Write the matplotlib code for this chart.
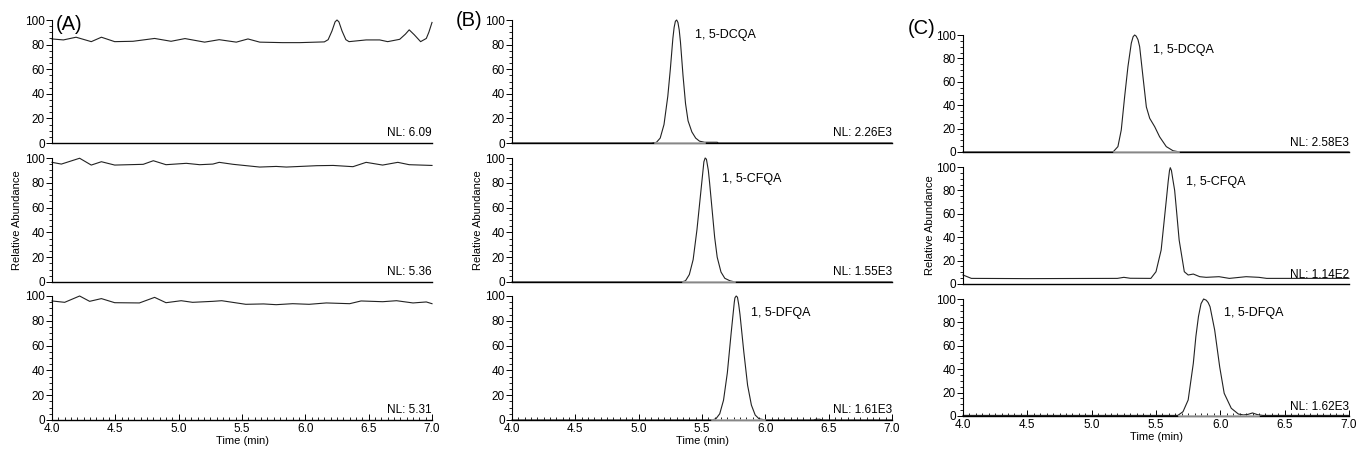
import numpy as np
import matplotlib
matplotlib.use("Agg")
import matplotlib.pyplot as plt
from matplotlib.ticker import MultipleLocator

plt.rcParams['font.family'] = ['Liberation Sans', 'DejaVu Sans']

## DATA (time in min, relative abundance in %)

# panel A: blank, three channels
a1_t = [4.0, 4.09, 4.19, 4.31, 4.39, 4.495, 4.64, 4.81, 4.94, 5.05, 5.205, 5.32, 5.455, 5.547,
        5.64, 5.82, 5.955, 6.15, 6.18, 6.21, 6.235, 6.25, 6.265, 6.29, 6.32, 6.345, 6.48,
        6.587, 6.65, 6.745, 6.79, 6.82, 6.86, 6.91, 6.955, 6.975, 7.0]
a1_y = [84.6, 83.8, 86.0, 82.4, 86.0, 82.4, 82.7, 85.0, 82.7, 84.9, 82.0, 84.0, 82.0, 84.6,
        82.0, 81.6, 81.6, 82.2, 84.0, 91.0, 98.5, 100.0, 98.5, 91.0, 84.0, 82.4, 83.8,
        83.8, 82.4, 84.3, 88.5, 92.0, 88.0, 82.4, 85.0, 90.0, 98.0]

a2_t = [4.0, 4.074, 4.218, 4.31, 4.39, 4.495, 4.72, 4.80, 4.90, 5.06, 5.166, 5.27, 5.32, 5.43,
        5.64, 5.77, 5.85, 6.09, 6.22, 6.376, 6.48, 6.61, 6.73, 6.82, 7.0]
a2_y = [96.5, 95.1, 99.8, 94.3, 97.0, 94.3, 94.9, 97.8, 94.6, 95.7, 94.6, 95.1, 96.5, 94.9,
        92.7, 93.2, 92.7, 93.8, 94.0, 93.0, 96.5, 94.3, 96.5, 94.6, 94.0]

a3_t = [4.0, 4.10, 4.218, 4.297, 4.39, 4.495, 4.69, 4.81, 4.90, 5.02, 5.11, 5.27, 5.34, 5.53,
        5.67, 5.77, 5.90, 6.03, 6.166, 6.35, 6.44, 6.61, 6.72, 6.85, 6.955, 7.0]
a3_y = [96.0, 94.9, 100.0, 95.7, 97.9, 94.6, 94.4, 98.9, 94.6, 96.2, 94.9, 95.7, 96.2, 93.3,
        93.6, 93.0, 93.8, 93.3, 94.4, 93.8, 96.0, 95.4, 96.2, 94.4, 95.2, 93.8]

# panel B: standards
b1_t = [4.0, 5.10, 5.14, 5.17, 5.20, 5.23, 5.25, 5.27, 5.28, 5.29, 5.30, 5.31, 5.32, 5.33,
        5.35, 5.37, 5.39, 5.42, 5.45, 5.48, 5.52, 5.62, 5.63, 7.0]
b1_y = [0, 0, 0.5, 4, 15, 38, 60, 85, 94, 99, 100, 98, 92, 82, 55, 32, 18, 9, 4, 1.5, 0.6,
        0.6, 0, 0]

b2_t = [4.0, 5.34, 5.37, 5.40, 5.43, 5.46, 5.49, 5.51, 5.515, 5.525, 5.535, 5.54, 5.55, 5.56,
        5.58, 5.60, 5.62, 5.65, 5.68, 5.72, 5.76, 7.0]
b2_y = [0, 0, 1, 6, 18, 42, 72, 92, 97, 100, 99, 96, 90, 80, 58, 36, 20, 8, 3, 1, 0, 0]

b3_t = [4.0, 5.58, 5.61, 5.64, 5.67, 5.70, 5.73, 5.755, 5.76, 5.77, 5.78, 5.785, 5.79, 5.80,
        5.83, 5.86, 5.89, 5.92, 5.95, 6.0, 6.38, 6.40, 6.43, 6.45, 7.0]
b3_y = [0, 0, 1, 5, 16, 38, 70, 95, 98.5, 100, 99, 96, 93, 85, 55, 28, 12, 4, 1, 0, 0, 0.6,
        0.6, 0, 0]

# panel C: sample
c1_t = [4.0, 5.166, 5.204, 5.23, 5.256, 5.282, 5.308, 5.322, 5.334, 5.346, 5.36, 5.373,
        5.399, 5.425, 5.451, 5.49, 5.528, 5.58, 5.632, 5.684, 7.0]
c1_y = [0, 0, 4.6, 18.8, 47, 73, 93, 98.5, 100, 99, 96, 90, 64, 38.5, 28.8, 21.6, 13, 4.6,
        1.1, 0, 0]

c2_t = [4.0, 4.065, 4.5, 5.20, 5.25, 5.30, 5.46, 5.50, 5.54, 5.58, 5.595, 5.605, 5.611,
        5.62, 5.63, 5.645, 5.66, 5.68, 5.72, 5.75, 5.79, 5.84, 5.89, 5.99, 6.07, 6.20, 6.30,
        6.36, 7.0]
c2_y = [7.7, 4.8, 4.6, 4.8, 5.7, 4.9, 4.8, 10.5, 29, 71.6, 88, 97, 99.4, 97, 90, 80, 62,
        37.5, 10.5, 7.7, 8.5, 6.25, 5.7, 6.25, 4.8, 6.25, 5.7, 4.8, 4.8]

c3_t = [4.0, 5.67, 5.71, 5.75, 5.79, 5.81, 5.83, 5.85, 5.87, 5.89, 5.905, 5.92, 5.956, 5.995,
        6.03, 6.085, 6.14, 6.18, 6.215, 6.25, 6.29, 6.33, 7.0]
c3_y = [0.5, 0.5, 3.7, 13.7, 45, 68, 85, 96, 100, 99, 97, 93.4, 73.5, 42, 19.4, 6.6, 1.7,
        0.9, 1.4, 2.6, 1.1, 0.5, 0.5]

nl_labels = [["NL: 6.09", "NL: 5.36", "NL: 5.31"],
             ["NL: 2.26E3", "NL: 1.55E3", "NL: 1.61E3"],
             ["NL: 2.58E3", "NL: 1.14E2", "NL: 1.62E3"]]
peak_names = ["1, 5-DCQA", "1, 5-CFQA", "1, 5-DFQA"]
peak_label_t = [[5.445, 5.66, 5.89], [5.48, 5.73, 6.03]]
peak_label_y = [[88, 83, 86], [87, 87, 88]]
panel_tags = ["(A)", "(B)", "(C)"]

# integration baselines drawn under the peaks (start, end)
b_base = [[(5.13, 5.52)], [(5.35, 5.76)], [(5.58, 6.0)]]
c_base = [[(5.17, 5.68)], [], [(5.68, 6.3)]]

traces = [[(a1_t, a1_y), (a2_t, a2_y), (a3_t, a3_y)],
          [(b1_t, b1_y), (b2_t, b2_y), (b3_t, b3_y)],
          [(c1_t, c1_y), (c2_t, c2_y), (c3_t, c3_y)]]

## LAYOUT
W, H = 1357, 455
fig = plt.figure(figsize=(W / 100, H / 100), dpi=100)

# pixel boxes: left, right, and (top, bottom) per row
cols = [(52, 432), (512, 892), (963, 1349)]
rows_ab = [(20, 143), (158, 282), (296, 420)]
rows_c = [(35, 152), (167, 284), (299, 416)]

axes = []
for p in range(3):
    left, right = cols[p]
    rows = rows_c if p == 2 else rows_ab
    col_axes = []
    for r in range(3):
        top, bot = rows[r]
        ax = fig.add_axes([left / W, 1 - bot / H, (right - left) / W, (bot - top) / H])
        t, y = traces[p][r]
        ax.plot(t, y, color='#222222', lw=0.8, clip_on=False, solid_joinstyle='round')

        base = []
        if p == 1:
            base = b_base[r]
        elif p == 2:
            base = c_base[r]
        for s, e in base:
            ax.plot([s, e], [0, 0], color='#b0b0b0', lw=1.1, zorder=3, clip_on=False)

        ax.set_xlim(4.0, 7.0)
        ax.set_ylim(0, 100)
        for side in ['top', 'right']:
            ax.spines[side].set_visible(False)
        ax.spines['left'].set_linewidth(0.8)
        ax.spines['bottom'].set_linewidth(1.0)
        ax.yaxis.set_major_locator(MultipleLocator(20))
        ax.yaxis.set_minor_locator(MultipleLocator(5))
        ax.tick_params(axis='y', which='major', direction='out', length=4, width=0.7,
                       labelsize=8.5, pad=1)
        ax.tick_params(axis='y', which='minor', direction='out', length=2, width=0.6)
        if r == 2:
            ax.xaxis.set_major_locator(MultipleLocator(0.5))
            ax.xaxis.set_minor_locator(MultipleLocator(0.05))
            ax.xaxis.set_major_formatter(plt.FormatStrFormatter('%.1f'))
            ax.tick_params(axis='x', which='major', direction='in', length=4, width=0.7,
                           labelsize=8.5, pad=2)
            ax.tick_params(axis='x', which='minor', direction='in', length=2, width=0.6)
            ax.set_xlabel("Time (min)", fontsize=8, labelpad=1)
        else:
            ax.tick_params(axis='x', which='both', bottom=False, labelbottom=False)

        ax.text(1.0, 0.08, nl_labels[p][r], transform=ax.transAxes, ha='right', va='center',
                fontsize=8.5)
        if p > 0:
            ax.text(peak_label_t[p - 1][r], peak_label_y[p - 1][r], peak_names[r],
                    ha='left', va='center', fontsize=9)
        col_axes.append(ax)
    axes.append(col_axes)

# y labels on the middle row
ylab_x = [17, 478, 930]
for p in range(3):
    rows = rows_c if p == 2 else rows_ab
    top, bot = rows[1]
    fig.text(ylab_x[p] / W, 1 - (top + bot) / 2 / H, "Relative Abundance", rotation=90,
             ha='center', va='center', fontsize=8)

# panel tags
tag_pos = [(56, 25), (456, 20), (908, 28)]
for tag, (x, y) in zip(panel_tags, tag_pos):
    fig.text(x / W, 1 - y / H, tag, ha='left', va='center', fontsize=14.5)

fig.savefig("out.png", dpi=100)
